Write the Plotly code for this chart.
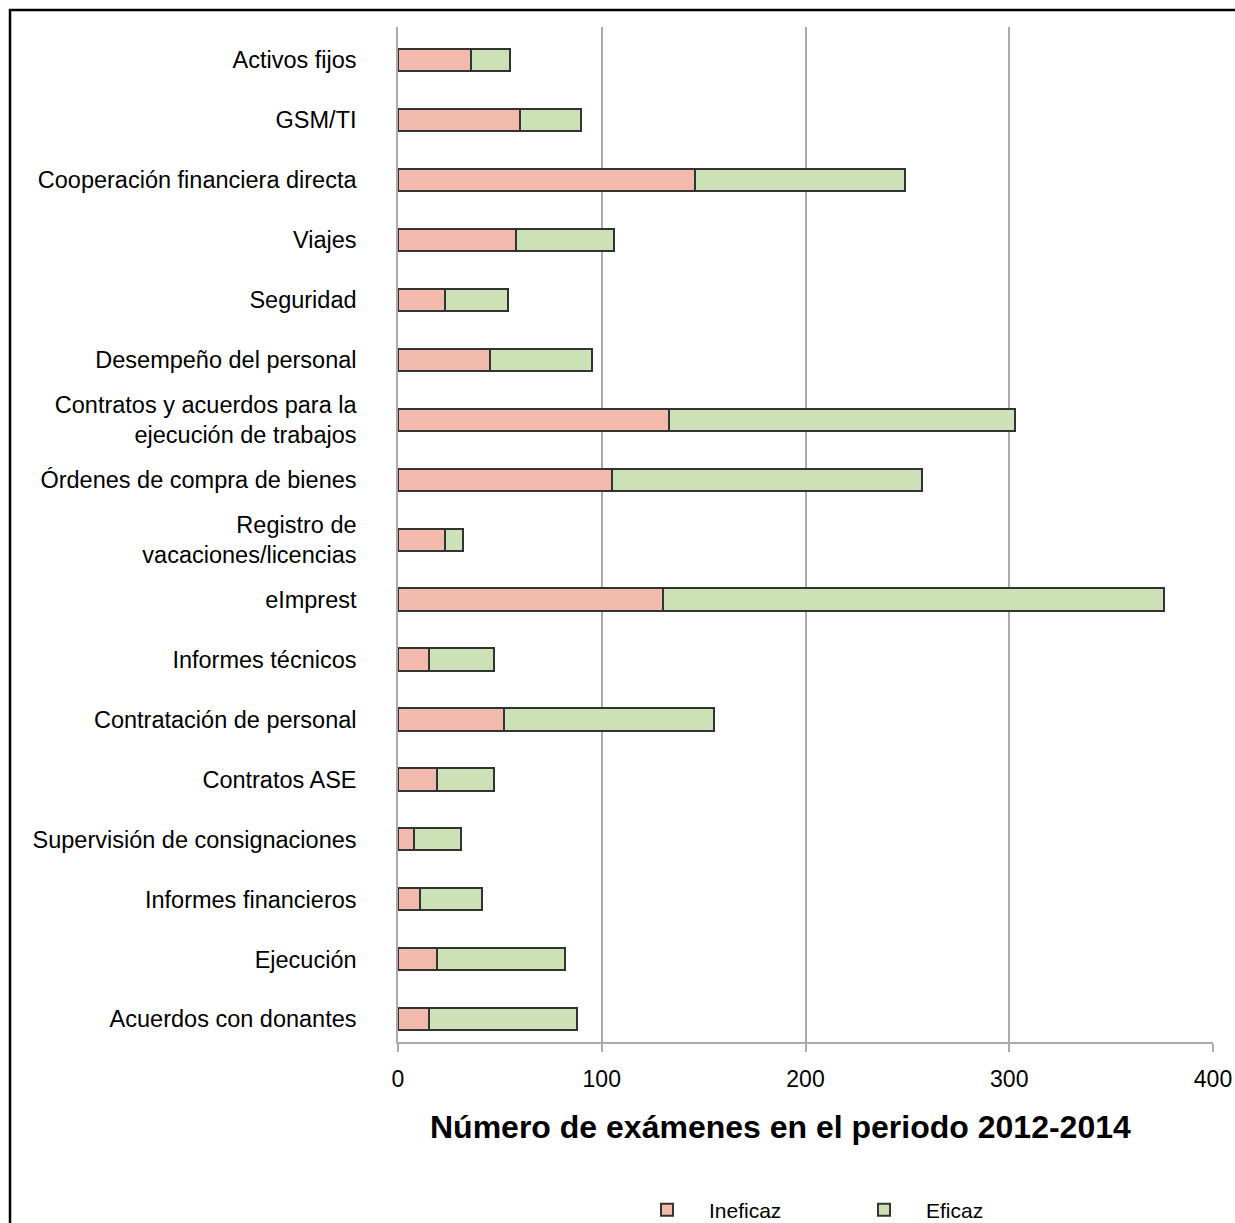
import plotly.graph_objects as go

categories = [
    "Activos fijos",
    "GSM/TI",
    "Cooperación financiera directa",
    "Viajes",
    "Seguridad",
    "Desempeño del personal",
    "Contratos y acuerdos para la<br>ejecución de trabajos",
    "Órdenes de compra de bienes",
    "Registro de<br>vacaciones/licencias",
    "eImprest",
    "Informes técnicos",
    "Contratación de personal",
    "Contratos ASE",
    "Supervisión de consignaciones",
    "Informes financieros",
    "Ejecución",
    "Acuerdos con donantes",
]
ineficaz = [36, 60, 146, 58, 23, 45, 133, 105, 23, 130, 15, 52, 19, 8, 11, 19, 15]
eficaz = [19, 30, 103, 48, 31, 50, 170, 152, 9, 246, 32, 103, 28, 23, 30, 63, 73]
x_ticks = [0, 100, 200, 300, 400]

FONT = "Liberation Sans, Arial, sans-serif"
PINK = "#F2BAAC"
GREEN = "#CCE2B6"
EDGE = "#333333"

W, H = 1235, 1223
L, R, T, B = 398, 22, 27, 181
PW = W - L - R
PH = H - T - B

fig = go.Figure()
fig.add_trace(go.Bar(
    y=categories, x=ineficaz, orientation="h", name="Ineficaz",
    marker=dict(color=PINK, line=dict(color=EDGE, width=2)), width=0.37,
))
fig.add_trace(go.Bar(
    y=categories, x=eficaz, orientation="h", name="Eficaz",
    marker=dict(color=GREEN, line=dict(color=EDGE, width=2)), width=0.37,
))

fig.update_layout(
    barmode="stack",
    width=W, height=H,
    margin=dict(l=L, r=R, t=T, b=B, autoexpand=False),
    paper_bgcolor="white", plot_bgcolor="white",
    font=dict(family=FONT, size=23, color="black"),
    showlegend=True,
    legend=dict(
        orientation="h", x=(625 - L) / PW, xanchor="left",
        y=(H - B - 1210) / PH, yanchor="middle",
        font=dict(size=21, family=FONT, color="black"),
        entrywidth=128, entrywidthmode="pixels", traceorder="normal",
        itemwidth=74, bgcolor="rgba(0,0,0,0)",
    ),
)

fig.update_xaxes(
    range=[0, 400], tickvals=x_ticks, ticktext=[str(v) for v in x_ticks],
    showgrid=True, gridcolor="#ABABAB", gridwidth=1.5,
    showline=True, linecolor="#ABABAB", linewidth=1.5,
    ticks="outside", ticklen=8, tickcolor="#ABABAB", tickwidth=1.5,
    zeroline=False, tickfont=dict(size=23, family=FONT),
    ticklabelstandoff=8,
)
fig.update_yaxes(
    type="category", categoryorder="array", categoryarray=categories,
    range=[16.38, -0.55],
    showgrid=False, showline=True, linecolor="#ABABAB", linewidth=1.5,
    ticks="", tickfont=dict(size=23.5, family=FONT),
    ticklabelstandoff=35,
)

fig.add_annotation(
    text="<b>Número de exámenes en el periodo 2012-2014</b>",
    xref="paper", yref="paper", x=(780 - L) / PW, y=(H - B - 1127) / PH,
    xanchor="center", yanchor="middle", showarrow=False,
    font=dict(size=32, family=FONT, color="black"),
)

fig.add_shape(
    type="rect", xref="paper", yref="paper",
    x0=(10 - L) / PW, x1=(W + 10 - L) / PW,
    y0=(H - B - (H + 10)) / PH, y1=(H - B - 10) / PH,
    line=dict(color="black", width=2.5), fillcolor="rgba(0,0,0,0)",
    layer="above",
)

fig.write_html(
    "out.html",
    config={"displayModeBar": False},
    post_script="document.body.style.margin='0';document.body.style.overflow='hidden';",
)
